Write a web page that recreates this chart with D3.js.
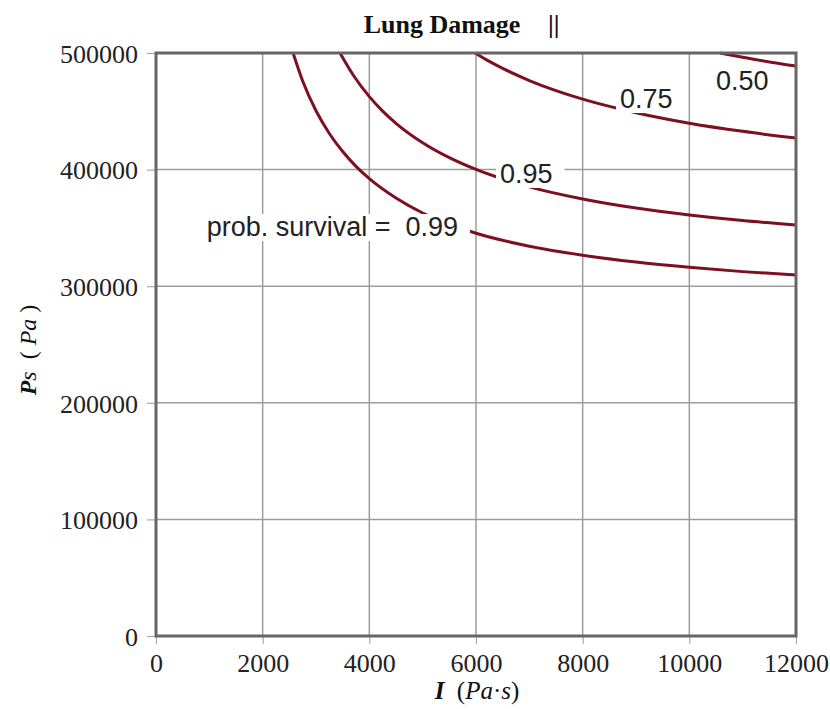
<!DOCTYPE html>
<html>
<head>
<meta charset="utf-8">
<script src="https://cdn.jsdelivr.net/npm/d3@7/dist/d3.min.js"></script>
<style>
  html, body { margin: 0; padding: 0; background: #fff; }
  svg { display: block; }
</style>
</head>
<body>
<svg id="chart" width="830" height="709"></svg>
<script>
// ---- data ----
const xTicks = [0, 2000, 4000, 6000, 8000, 10000, 12000];
const yTicks = [0, 100000, 200000, 300000, 400000, 500000];

const I_099 = [2570, 2750, 3000, 3250, 3500, 3750, 4000, 4500, 5000, 5500, 6000, 7000, 8000, 9000, 10000, 11000, 12000];
const P_099 = [500000, 476000, 450500, 431000, 415500, 402800, 392200, 375600, 362800, 353200, 345400, 334300, 326600, 320700, 316200, 312500, 309600];

const I_095 = [3450, 3700, 4000, 4250, 4500, 5000, 5500, 6000, 7000, 8000, 9000, 10000, 11000, 12000];
const P_095 = [500000, 480900, 462600, 450200, 439700, 423000, 410200, 400100, 385200, 374800, 367000, 361100, 356300, 352500];

const I_075 = [5980, 6250, 6500, 7000, 7500, 8000, 9000, 10000, 11000, 12000];
const P_075 = [500000, 492800, 486800, 476400, 467700, 460400, 448800, 439800, 432800, 427100];

const I_050 = [10580, 11000, 12000];
const P_050 = [500000, 496300, 488800];

const curveNames = ["0.99", "0.95", "0.75", "0.50"];
const labelTexts = ["prob. survival =  0.99", "0.95", "0.75", "0.50"];

// ---- drawing ----
const svg = d3.select("#chart");
svg.append("rect").attr("width", 830).attr("height", 709).attr("fill", "#fff");

const x = d3.scaleLinear().domain([0, 12000]).range([156, 796]);
const y = d3.scaleLinear().domain([0, 500000]).range([636, 53]);

const serif = "'Liberation Serif', 'Times New Roman', serif";
const sans = "'Liberation Sans', Arial, sans-serif";

// grid
const grid = svg.append("g");
grid.selectAll("line.vx").data(xTicks.slice(1, -1)).enter().append("line")
  .attr("x1", d => x(d)).attr("x2", d => x(d))
  .attr("y1", y(0)).attr("y2", y(500000))
  .attr("stroke", "#9c9c9c").attr("stroke-width", 1.5);
grid.selectAll("line.hy").data(yTicks.slice(1, -1)).enter().append("line")
  .attr("x1", x(0)).attr("x2", x(12000))
  .attr("y1", d => y(d)).attr("y2", d => y(d))
  .attr("stroke", "#9c9c9c").attr("stroke-width", 1.5);

// axes
const yAxis = svg.append("g").attr("transform", `translate(${x(0)},0)`)
  .call(d3.axisLeft(y).tickValues(yTicks).tickFormat(d3.format("d")).tickSize(9).tickPadding(9));
const xAxis = svg.append("g").attr("transform", `translate(0,${y(0)})`)
  .call(d3.axisBottom(x).tickValues(xTicks).tickFormat(d3.format("d")).tickSize(8).tickPadding(10));
[yAxis, xAxis].forEach(g => {
  g.select(".domain").remove();
  g.selectAll(".tick line").attr("stroke", "#a8a8a8").attr("stroke-width", 1.2);
  g.selectAll(".tick text").attr("font-family", serif).attr("font-size", 26).attr("fill", "#222");
});
yAxis.selectAll(".tick text").attr("dy", "0.36em");
xAxis.selectAll(".tick text").attr("dy", "0.71em");

// curves
const line = d3.line().x(d => x(d[0])).y(d => y(d[1])).curve(d3.curveMonotoneX);
const series = [
  d3.zip(I_099, P_099),
  d3.zip(I_095, P_095),
  d3.zip(I_075, P_075),
  d3.zip(I_050, P_050)
];
svg.append("g").selectAll("path").data(series).enter().append("path")
  .attr("d", line)
  .attr("fill", "none")
  .attr("stroke", "#7d1020")
  .attr("stroke-width", 3);

// contour labels with white boxes (anchor given in data units)
const labelAnchors = [
  { I: 5663, P: 343000, anchor: "end" },
  { I: 6450, P: 388500, anchor: "start" },
  { I: 8700, P: 452800, anchor: "start" },
  { I: 10500, P: 468300, anchor: "start" }
];
const lg = svg.append("g");
labelTexts.forEach((t, i) => {
  const a = labelAnchors[i];
  const g = lg.append("g");
  const rect = g.append("rect").attr("fill", "#fff");
  const txt = g.append("text")
    .attr("x", x(a.I)).attr("y", y(a.P))
    .attr("text-anchor", a.anchor)
    .attr("font-family", sans).attr("font-size", 27).attr("fill", "#222")
    .attr("xml:space", "preserve")
    .style("white-space", "pre")
    .text(t);
  const bb = txt.node().getBBox();
  rect.attr("x", bb.x - 4).attr("y", bb.y + 2).attr("width", bb.width + 16).attr("height", bb.height - 3);
});

// frame
svg.append("rect")
  .attr("x", x(0)).attr("y", y(500000))
  .attr("width", x(12000) - x(0)).attr("height", y(0) - y(500000))
  .attr("fill", "none").attr("stroke", "#666").attr("stroke-width", 3);

// title
svg.append("text").attr("x", 442).attr("y", 33).attr("text-anchor", "middle")
  .attr("font-family", serif).attr("font-size", 26).attr("font-weight", "bold").attr("fill", "#111")
  .text("Lung Damage");
svg.append("text").attr("x", 548).attr("y", 33)
  .attr("font-family", serif).attr("font-size", 26).attr("font-weight", "bold").attr("fill", "#111")
  .text("||");

// x label
const xl = svg.append("text").attr("x", 477).attr("y", 699).attr("text-anchor", "middle")
  .attr("font-family", serif).attr("font-size", 25).attr("fill", "#111")
  .attr("xml:space", "preserve").style("white-space", "pre");
xl.append("tspan").attr("font-weight", "bold").attr("font-style", "italic").text("I");
xl.append("tspan").text("  (");
xl.append("tspan").attr("font-style", "italic").text("Pa");
xl.append("tspan").text("·");
xl.append("tspan").attr("font-style", "italic").text("s");
xl.append("tspan").text(")");

// y label
const yl = svg.append("text").attr("transform", "translate(36,350) rotate(-90)")
  .attr("text-anchor", "middle")
  .attr("font-family", serif).attr("font-size", 24).attr("fill", "#111")
  .attr("xml:space", "preserve").style("white-space", "pre");
yl.append("tspan").attr("font-weight", "bold").attr("font-style", "italic").text("P");
yl.append("tspan").attr("font-style", "italic").text("s");
yl.append("tspan").text("  ( ");
yl.append("tspan").attr("font-style", "italic").text("Pa");
yl.append("tspan").text(" )");
</script>
</body>
</html>
